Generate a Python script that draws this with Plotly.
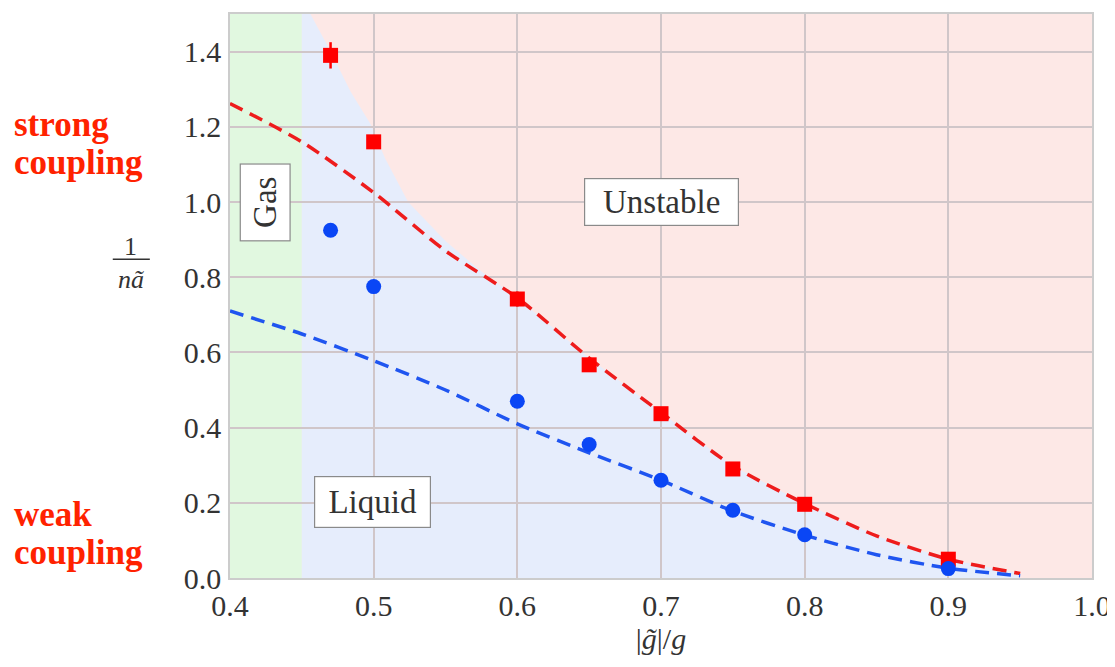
import plotly.graph_objects as go

# --- data ---
x_pts = [0.47, 0.5, 0.6, 0.65, 0.7, 0.75, 0.8, 0.9]
red_sq = [1.39, 1.16, 0.742, 0.567, 0.437, 0.29, 0.196, 0.05]
red_err = [0.035, 0.012, 0.02, 0.012, 0.01, 0.01, 0.01, 0.012]
blue_pts = [0.925, 0.775, 0.47, 0.355, 0.26, 0.18, 0.115, 0.025]
blue_err = [0.01, 0.01, 0.01, 0.015, 0.01, 0.01, 0.01, 0.008]

x_fit = [0.40, 0.45, 0.50, 0.55, 0.60, 0.65, 0.70, 0.75, 0.80, 0.85, 0.90, 0.95]
red_fit = [1.262, 1.16, 1.025, 0.87, 0.745, 0.585, 0.44, 0.298, 0.198, 0.112, 0.05, 0.012]
blue_fit = [0.71, 0.649, 0.578, 0.50, 0.41, 0.333, 0.26, 0.178, 0.114, 0.062, 0.026, 0.006]

# liquid / unstable boundary (upper part, before joining red fit)
bnd_x = [0.456, 0.47, 0.484, 0.498, 0.508, 0.524, 0.55, 0.575, 0.6]
bnd_y = [1.5, 1.40, 1.293, 1.206, 1.116, 1.0, 0.896, 0.815, 0.745]

gas_edge = 0.45
x_range = [0.4, 1.0]
y_range = [0.0, 1.5]
x_ticks = [0.4, 0.5, 0.6, 0.7, 0.8, 0.9, 1.0]
y_ticks = [0.0, 0.2, 0.4, 0.6, 0.8, 1.0, 1.2, 1.4]

PINK = "#fde8e6"
BLUE = "#e6edfc"
GREEN = "#e1f8e0"
SERIF = "Liberation Serif, DejaVu Serif, serif"
TXT = "#333333"

fig = go.Figure()

# liquid polygon path
px = [gas_edge, gas_edge] + bnd_x + [x for x in x_fit if x > 0.6] + [x_fit[-1]]
py = [y_range[0], y_range[1]] + bnd_y + [y for x, y in zip(x_fit, red_fit) if x > 0.6] + [y_range[0]]
path = "M " + " L ".join(f"{a},{b}" for a, b in zip(px, py)) + " Z"

shapes = [
    dict(type="rect", xref="x", yref="y", x0=x_range[0], x1=gas_edge, y0=y_range[0], y1=y_range[1],
         fillcolor=GREEN, line=dict(width=0), layer="below"),
    dict(type="path", xref="x", yref="y", path=path, fillcolor=BLUE, line=dict(width=0), layer="below"),
    # y-label fraction bar
    dict(type="line", xref="paper", yref="paper", x0=-0.136, x1=-0.093, y0=0.565, y1=0.565,
         line=dict(color=TXT, width=1.5)),
]

fig.add_trace(go.Scatter(x=x_fit, y=red_fit, mode="lines", line_shape="spline",
                         line=dict(color="#ee1c1c", width=3.5, dash="14px,8px", smoothing=0.7),
                         showlegend=False))
fig.add_trace(go.Scatter(x=x_fit, y=blue_fit, mode="lines", line_shape="spline",
                         line=dict(color="#1f55f0", width=3.5, dash="14px,8px", smoothing=0.7),
                         showlegend=False))
fig.add_trace(go.Scatter(x=x_pts, y=red_sq, mode="markers",
                         marker=dict(symbol="square", size=15, color="#ff0000"),
                         error_y=dict(type="data", array=red_err, color="#ff0000", thickness=2.5, width=0),
                         showlegend=False))
fig.add_trace(go.Scatter(x=x_pts, y=blue_pts, mode="markers",
                         marker=dict(symbol="circle", size=15, color="#0a46f5"),
                         error_y=dict(type="data", array=blue_err, color="#0a46f5", thickness=2.5, width=0),
                         showlegend=False))

box = dict(bgcolor="white", bordercolor="#8a8a8a", borderwidth=1.2, borderpad=4,
           font=dict(family=SERIF, size=33, color=TXT), showarrow=False,
           xanchor="center", yanchor="middle", align="center", valign="middle")
red_font = dict(family="Liberation Serif, serif", size=35, color="#ff2200")
annotations = [
    dict(x=0.4244, y=0.999, xref="x", yref="y", text="Gas", textangle=-90, width=68, height=41, **box),
    dict(x=0.7006, y=0.999, xref="x", yref="y", text="Unstable", width=145, height=38, **box),
    dict(x=0.4995, y=0.201, xref="x", yref="y", text="Liquid", width=107, height=42, **box),
    dict(x=-0.115, y=0.588, xref="paper", yref="paper", text="1", showarrow=False,
         xanchor="center", yanchor="middle", font=dict(family=SERIF, size=26, color=TXT)),
    dict(x=-0.115, y=0.530, xref="paper", yref="paper", text="<i>nã</i>", showarrow=False,
         xanchor="center", yanchor="middle", font=dict(family=SERIF, size=26, color=TXT)),
    dict(x=-0.253, y=0.804, xref="paper", yref="paper", xanchor="left", yanchor="middle",
         text="<b>strong</b>", showarrow=False, font=red_font),
    dict(x=-0.253, y=0.736, xref="paper", yref="paper", xanchor="left", yanchor="middle",
         text="<b>coupling</b>", showarrow=False, font=red_font),
    dict(x=-0.253, y=0.112, xref="paper", yref="paper", xanchor="left", yanchor="middle",
         text="<b>weak</b>", showarrow=False, font=red_font),
    dict(x=-0.253, y=0.045, xref="paper", yref="paper", xanchor="left", yanchor="middle",
         text="<b>coupling</b>", showarrow=False, font=red_font),
]

fig.update_layout(
    width=1107, height=659,
    margin=dict(l=222, r=23, t=4, b=89),
    paper_bgcolor="white", plot_bgcolor=PINK,
    shapes=shapes, annotations=annotations,
    xaxis=dict(range=x_range, tickvals=x_ticks, ticktext=[f"{v:.1f}" for v in x_ticks],
               showgrid=True, gridcolor="#d0c6c9", gridwidth=1.5, zeroline=False,
               showline=True, linecolor="#cccccc", linewidth=1.5, mirror=True, ticks="",
               ticklabeloverflow="allow",
               tickfont=dict(family=SERIF, size=30, color=TXT),
               title=dict(text="|<i>g̃</i>|/<i>g</i>", font=dict(family=SERIF, size=30, color=TXT), standoff=2)),
    yaxis=dict(range=y_range, tickvals=y_ticks, ticktext=[f"{v:.1f}" for v in y_ticks],
               showgrid=True, gridcolor="#d0c6c9", gridwidth=1.5, zeroline=False,
               showline=True, linecolor="#cccccc", linewidth=1.5, mirror=True, ticks="",
               ticklabelstandoff=1,
               tickfont=dict(family=SERIF, size=30, color=TXT)),
)

fig.write_html("out.html")
